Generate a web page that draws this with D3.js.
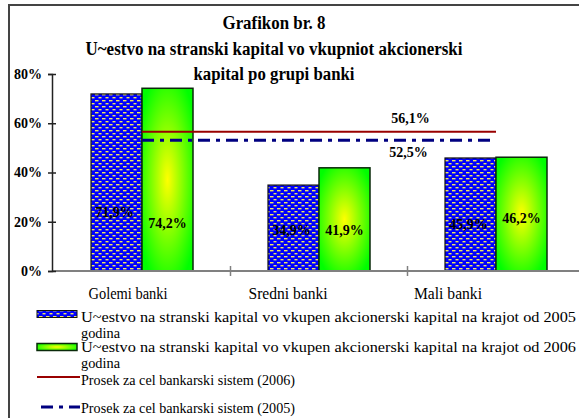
<!DOCTYPE html>
<html>
<head>
<meta charset="utf-8">
<script src="https://cdn.jsdelivr.net/npm/d3@7"></script>
<style>
  body { margin: 0; background: #fff; }
  svg { display: block; }
</style>
</head>
<body>
<div id="chart"></div>
<script>
// data
var categories = ["Golemi banki", "Sredni banki", "Mali banki"];
var share2005 = [71.9, 34.9, 45.9];
var share2006 = [74.2, 41.9, 46.2];
var avg2006 = 56.1;
var avg2005 = 52.5;
var yTicks = [0, 20, 40, 60, 80];
var titleLines = ["Grafikon br. 8",
                  "U~estvo na stranski kapital vo vkupniot akcionerski",
                  "kapital po grupi banki"];
var legendLabels = [
  ["U~estvo na stranski kapital vo vkupen akcionerski kapital na krajot od 2005", "godina"],
  ["U~estvo na stranski kapital vo vkupen akcionerski kapital na krajot od 2006", "godina"],
  ["Prosek za cel bankarski sistem (2006)"],
  ["Prosek za cel bankarski sistem (2005)"]
];

var width = 579, height = 418;
var serif = "'Liberation Serif', 'Times New Roman', serif";

var svg = d3.select("#chart").append("svg")
    .attr("width", width)
    .attr("height", height);

var defs = svg.append("defs");

// blue fill with small yellow dashes
var pat = defs.append("pattern")
    .attr("id", "dots")
    .attr("patternUnits", "userSpaceOnUse")
    .attr("width", 7).attr("height", 6);
pat.append("rect").attr("width", 7).attr("height", 6).attr("fill", "#0000ff");
pat.append("rect").attr("x", 0.5).attr("y", 1).attr("width", 3).attr("height", 1.4).attr("fill", "#f0e860");
pat.append("rect").attr("x", 4).attr("y", 4).attr("width", 3).attr("height", 1.4).attr("fill", "#f0e860");
pat.append("rect").attr("x", -0.5).attr("y", 4).attr("width", 1).attr("height", 1.4).attr("fill", "#f0e860");

// yellow centre fading to green edges
var grad = defs.append("radialGradient")
    .attr("id", "glow")
    .attr("cx", 0.5).attr("cy", 0.5).attr("r", 0.62);
grad.append("stop").attr("offset", "0%").attr("stop-color", "#ffff00");
grad.append("stop").attr("offset", "100%").attr("stop-color", "#00ff00");

// frame
svg.append("path")
    .attr("d", "M9,420 V5 H600")
    .attr("fill", "none")
    .attr("stroke", "#444")
    .attr("stroke-width", 2);

// title
svg.append("g").selectAll("text")
    .data(titleLines)
    .enter().append("text")
    .attr("x", 274)
    .attr("y", function(d, i) { return 29 + i * 25.5; })
    .attr("text-anchor", "middle")
    .attr("font-family", serif)
    .attr("font-weight", "bold")
    .attr("font-size", 18)
    .attr("textLength", function(d, i) { return [103, 377, 161][i]; })
    .attr("lengthAdjust", "spacingAndGlyphs")
    .text(function(d) { return d; });

// scales
var x = d3.scaleBand()
    .domain(categories)
    .range([53.5, 584.5]);

var y = d3.scaleLinear()
    .domain([0, 80])
    .range([271, 74]);

var barW = 51;
var fmt = function(v) { return d3.format(".1f")(v).replace(".", ",") + "%"; };

// bars 2005
svg.append("g").selectAll("rect")
    .data(share2005)
    .enter().append("rect")
    .attr("x", function(d, i) { return x(categories[i]) + x.bandwidth() / 2 - barW; })
    .attr("y", function(d) { return y(d); })
    .attr("width", barW)
    .attr("height", function(d) { return y(0) - y(d); })
    .attr("fill", "url(#dots)")
    .attr("stroke", "#111")
    .attr("stroke-width", 1.2);

// bars 2006
svg.append("g").selectAll("rect")
    .data(share2006)
    .enter().append("rect")
    .attr("x", function(d, i) { return x(categories[i]) + x.bandwidth() / 2; })
    .attr("y", function(d) { return y(d); })
    .attr("width", barW)
    .attr("height", function(d) { return y(0) - y(d); })
    .attr("fill", "url(#glow)")
    .attr("stroke", "#0a2a0a")
    .attr("stroke-width", 1.5);

// x axis
svg.append("line")
    .attr("x1", 52).attr("x2", width)
    .attr("y1", y(0)).attr("y2", y(0))
    .attr("stroke", "#808080")
    .attr("stroke-width", 2);
svg.append("g").selectAll("line")
    .data(categories.slice(1))
    .enter().append("line")
    .attr("x1", function(d) { return x(d); })
    .attr("x2", function(d) { return x(d); })
    .attr("y1", y(0) - 5).attr("y2", y(0) + 5)
    .attr("stroke", "#808080")
    .attr("stroke-width", 1.5);

// y axis
var yAxis = svg.append("g")
    .attr("transform", "translate(52,0)")
    .call(d3.axisLeft(y).tickValues(yTicks).tickSizeOuter(0).tickSize(4)
          .tickFormat(function(d) { return d + "%"; }));
yAxis.select(".domain").attr("stroke", "#222").attr("stroke-width", 1.5);
yAxis.selectAll(".tick line").attr("x1", 4).attr("x2", -4).attr("stroke", "#222").attr("stroke-width", 1.5);
yAxis.selectAll(".tick text")
    .attr("x", -10)
    .attr("font-family", serif)
    .attr("font-weight", "bold")
    .attr("font-size", 14)
    .attr("fill", "#000");

// category labels sit a bit left of the bands
var xl = d3.scaleBand().domain(categories).range([48, 528]);
svg.append("g").selectAll("text")
    .data(categories)
    .enter().append("text")
    .attr("x", function(d) { return xl(d) + xl.bandwidth() / 2; })
    .attr("y", 299)
    .attr("text-anchor", "middle")
    .attr("font-family", serif)
    .attr("font-size", 16)
    .attr("textLength", function(d, i) { return [79, 79, 68][i]; })
    .attr("lengthAdjust", "spacingAndGlyphs")
    .text(function(d) { return d; });

// average lines
var c0 = x(categories[0]) + x.bandwidth() / 2;
var c2 = x(categories[2]) + x.bandwidth() / 2;
svg.append("line")
    .attr("x1", c0).attr("x2", c2)
    .attr("y1", y(avg2006) - 1).attr("y2", y(avg2006) - 1)
    .attr("stroke", "#990000")
    .attr("stroke-width", 2);
svg.append("line")
    .attr("x1", c0).attr("x2", c2 - 4)
    .attr("y1", y(avg2005) - 1.5).attr("y2", y(avg2005) - 1.5)
    .attr("stroke", "#000080")
    .attr("stroke-width", 3)
    .attr("stroke-dasharray", "12,6,4,6");

svg.append("text")
    .attr("x", x(categories[2]) + 3)
    .attr("y", y(avg2006) - 10)
    .attr("text-anchor", "middle")
    .attr("font-family", serif)
    .attr("font-weight", "bold")
    .attr("font-size", 14)
    .text(fmt(avg2006));
svg.append("text")
    .attr("x", x(categories[2]) + 1)
    .attr("y", y(avg2005) + 15)
    .attr("text-anchor", "middle")
    .attr("font-family", serif)
    .attr("font-weight", "bold")
    .attr("font-size", 14)
    .text(fmt(avg2005));

// value labels, placed inside the bars as in the original
var labelAt2005 = [21.9, 14.6, 17.1];
var labelAt2006 = [17.5, 14.6, 19.5];
svg.append("g").selectAll("text")
    .data(share2005)
    .enter().append("text")
    .attr("x", function(d, i) { return x(categories[i]) + x.bandwidth() / 2 - barW / 2 - 2; })
    .attr("y", function(d, i) { return y(labelAt2005[i]); })
    .attr("text-anchor", "middle")
    .attr("font-family", serif)
    .attr("font-weight", "bold")
    .attr("font-size", 14)
    .text(fmt);
svg.append("g").selectAll("text")
    .data(share2006)
    .enter().append("text")
    .attr("x", function(d, i) { return x(categories[i]) + x.bandwidth() / 2 + barW / 2; })
    .attr("y", function(d, i) { return y(labelAt2006[i]); })
    .attr("text-anchor", "middle")
    .attr("font-family", serif)
    .attr("font-weight", "bold")
    .attr("font-size", 14)
    .text(fmt);

// legend
var legend = svg.append("g");
var rowY = [314, 347, 377, 407];
var baseY = [322, 352, 385, 413];

legend.append("rect")
    .attr("x", 37).attr("y", rowY[0] - 3.5)
    .attr("width", 40).attr("height", 7)
    .attr("fill", "url(#dots)")
    .attr("stroke", "#111").attr("stroke-width", 1);
legend.append("rect")
    .attr("x", 37).attr("y", rowY[1] - 3.5)
    .attr("width", 40).attr("height", 7)
    .attr("fill", "url(#glow)")
    .attr("stroke", "#0a2a0a").attr("stroke-width", 1.5);
legend.append("line")
    .attr("x1", 37).attr("x2", 80)
    .attr("y1", rowY[2]).attr("y2", rowY[2])
    .attr("stroke", "#990000").attr("stroke-width", 2);
legend.append("line")
    .attr("x1", 41).attr("x2", 80)
    .attr("y1", rowY[3]).attr("y2", rowY[3])
    .attr("stroke", "#000080").attr("stroke-width", 3)
    .attr("stroke-dasharray", "12,6,4,6");

var lens = [[495, 39], [495, 39], [214], [214]];
legendLabels.forEach(function(lines, i) {
  lines.forEach(function(t, j) {
    legend.append("text")
        .attr("x", 81)
        .attr("y", baseY[i] + j * 15.6)
        .attr("font-family", serif)
        .attr("font-size", 14)
        .attr("textLength", lens[i][j])
        .attr("lengthAdjust", "spacingAndGlyphs")
        .text(t);
  });
});
</script>
</body>
</html>
